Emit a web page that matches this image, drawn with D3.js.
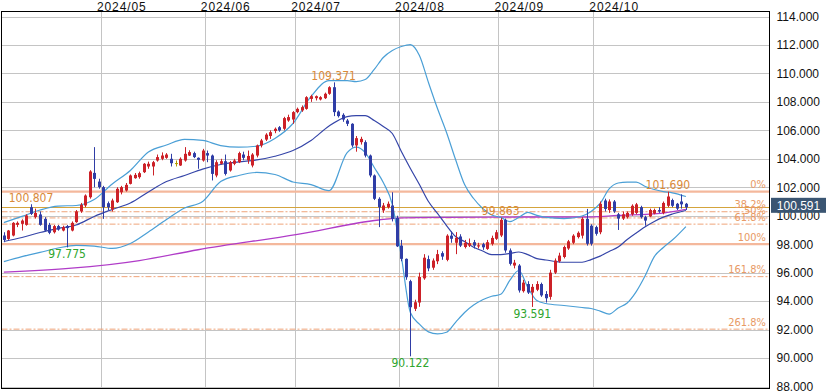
<!DOCTYPE html>
<html><head><meta charset="utf-8">
<script src="https://cdn.jsdelivr.net/npm/d3@7"></script>
<style>html,body{margin:0;padding:0;background:#fff;}svg{display:block;}</style>
</head><body>
<svg id="chart" width="830" height="391"></svg>
<script>
const dates = ["2024-04-01","2024-04-02","2024-04-03","2024-04-04","2024-04-05","2024-04-08","2024-04-09","2024-04-10","2024-04-11","2024-04-12","2024-04-15","2024-04-16","2024-04-17","2024-04-18","2024-04-19","2024-04-22","2024-04-23","2024-04-24","2024-04-25","2024-04-26","2024-04-29","2024-04-30",
"2024-05-01","2024-05-02","2024-05-03","2024-05-06","2024-05-07","2024-05-08","2024-05-09","2024-05-10","2024-05-13","2024-05-14","2024-05-15","2024-05-16","2024-05-17","2024-05-20","2024-05-21","2024-05-22","2024-05-23","2024-05-24","2024-05-27","2024-05-28","2024-05-29","2024-05-30","2024-05-31",
"2024-06-03","2024-06-04","2024-06-05","2024-06-06","2024-06-07","2024-06-10","2024-06-11","2024-06-12","2024-06-13","2024-06-14","2024-06-17","2024-06-18","2024-06-19","2024-06-20","2024-06-21","2024-06-24","2024-06-25","2024-06-26","2024-06-27","2024-06-28",
"2024-07-01","2024-07-02","2024-07-03","2024-07-04","2024-07-05","2024-07-08","2024-07-09","2024-07-10","2024-07-11","2024-07-12","2024-07-15","2024-07-16","2024-07-17","2024-07-18","2024-07-19","2024-07-22","2024-07-23","2024-07-24","2024-07-25","2024-07-26","2024-07-29","2024-07-30","2024-07-31",
"2024-08-01","2024-08-02","2024-08-05","2024-08-06","2024-08-07","2024-08-08","2024-08-09","2024-08-12","2024-08-13","2024-08-14","2024-08-15","2024-08-16","2024-08-19","2024-08-20","2024-08-21","2024-08-22","2024-08-23","2024-08-26","2024-08-27","2024-08-28","2024-08-29","2024-08-30",
"2024-09-02","2024-09-03","2024-09-04","2024-09-05","2024-09-06","2024-09-09","2024-09-10","2024-09-11","2024-09-12","2024-09-13","2024-09-16","2024-09-17","2024-09-18","2024-09-19","2024-09-20","2024-09-23","2024-09-24","2024-09-25","2024-09-26","2024-09-27","2024-09-30",
"2024-10-01","2024-10-02","2024-10-03","2024-10-04","2024-10-07","2024-10-08","2024-10-09","2024-10-10","2024-10-11","2024-10-14","2024-10-15","2024-10-16","2024-10-17","2024-10-18","2024-10-21","2024-10-22","2024-10-23","2024-10-24","2024-10-25","2024-10-28","2024-10-29"];

const open = [98.61,98.37,98.61,99.36,99.43,99.36,100.60,99.90,100.09,99.78,99.36,98.84,99.27,98.96,99.27,98.96,99.55,100.30,100.72,101.30,103.01,102.40,
102.01,100.88,100.44,100.95,101.65,101.77,102.24,102.64,102.71,103.06,103.46,103.46,103.88,104.00,104.07,104.00,103.70,103.53,103.88,104.23,104.40,104.07,103.88,
104.40,104.23,102.83,103.65,103.83,103.18,103.65,103.76,104.30,103.90,103.53,104.23,104.94,105.35,105.60,105.95,106.22,106.11,106.69,106.76,
107.28,107.40,107.51,108.21,108.26,108.17,108.26,108.57,109.03,107.32,107.09,106.69,106.46,104.94,105.17,105.17,104.23,102.83,101.19,100.37,100.60,100.72,99.85,
97.90,96.97,95.40,93.46,93.90,95.60,96.95,96.35,96.80,97.37,96.90,98.60,98.10,98.54,97.80,97.90,98.14,97.84,98.00,97.67,98.02,98.38,
98.61,99.71,97.56,96.50,96.50,94.70,95.20,94.60,94.80,95.20,94.50,94.30,96.00,96.80,97.10,97.70,98.10,98.50,98.60,99.78,99.30,
99.20,98.84,101.07,100.40,101.00,100.10,99.80,99.90,100.10,100.20,100.60,99.90,99.95,100.15,100.40,100.20,100.70,101.10,100.84,101.00,100.84];
const high = [98.84,99.00,99.55,99.60,99.75,100.10,100.807,100.50,100.30,99.90,99.50,99.35,99.35,99.30,99.35,99.60,100.40,100.90,101.50,103.20,104.82,102.60,
102.10,101.00,101.20,102.00,102.10,102.30,102.90,103.00,103.10,103.70,103.80,103.85,104.30,104.45,104.40,104.35,103.88,104.10,104.82,104.60,104.50,104.10,104.70,
104.58,104.30,103.90,104.00,104.30,103.85,104.00,104.50,104.50,104.58,104.40,105.00,105.40,105.80,106.00,106.20,106.30,106.95,107.10,107.35,
107.60,107.75,108.40,108.50,108.45,108.40,108.65,109.10,109.371,107.40,107.20,106.80,106.50,105.60,105.55,105.30,104.30,102.90,101.30,100.90,101.00,101.65,100.00,
98.30,97.00,95.50,94.10,96.00,97.30,97.20,97.00,97.60,97.50,98.70,98.90,98.85,98.70,98.30,98.40,98.30,98.10,98.10,98.30,98.60,99.00,
99.863,99.80,97.70,96.90,96.60,95.50,95.40,95.20,95.40,95.30,94.70,96.20,97.00,97.40,97.90,98.30,98.70,98.90,99.90,100.48,99.40,
99.30,101.00,101.20,101.15,101.10,100.20,100.30,100.30,100.80,100.90,100.70,100.00,100.50,100.50,100.60,101.00,101.690,101.20,100.90,101.50,100.90];
const low = [98.14,98.30,98.55,99.20,98.96,99.30,100.05,99.80,99.30,98.90,98.70,98.75,98.95,98.90,97.775,98.90,99.50,100.20,100.60,101.20,102.00,101.90,
99.78,100.40,100.30,100.90,101.50,101.70,102.20,102.60,102.60,103.00,103.30,102.83,103.80,103.90,104.00,103.46,103.46,103.50,103.80,104.20,104.05,103.30,103.80,
103.76,102.48,102.70,103.60,102.83,103.10,103.55,103.70,103.90,103.65,103.40,104.10,104.80,105.25,105.40,105.80,105.90,106.00,106.60,106.46,
107.20,107.30,107.45,108.00,108.10,108.10,108.20,108.50,107.00,106.90,106.60,106.30,104.80,104.50,105.00,104.10,102.70,101.10,99.20,100.20,100.50,99.60,97.80,
96.80,95.50,90.122,93.30,93.60,95.50,96.10,96.20,96.60,96.90,96.80,98.10,97.30,97.80,97.70,97.80,97.70,97.70,97.60,97.60,97.90,98.30,
98.50,97.40,96.50,96.30,94.60,94.60,94.50,93.591,94.70,94.30,93.90,94.10,95.90,96.70,97.00,97.60,98.00,98.40,98.40,97.90,97.90,
98.60,98.70,100.30,100.20,100.20,99.00,99.70,99.80,100.00,100.10,99.80,99.30,99.90,100.10,100.20,100.10,100.60,100.60,100.40,100.50,100.40];
const close = [98.30,98.96,99.50,99.50,99.66,100.02,100.13,100.20,99.36,98.96,98.80,99.27,99.03,99.20,99.13,99.50,100.30,100.77,101.42,103.11,102.59,102.01,
100.60,100.60,101.07,101.89,102.01,102.17,102.83,102.87,102.99,103.65,103.65,103.76,104.12,104.23,104.30,103.69,103.70,104.00,104.35,104.47,104.12,103.93,104.58,
104.23,102.94,103.76,103.83,102.94,103.76,103.88,104.40,104.07,104.20,104.30,104.94,105.29,105.70,105.87,106.11,105.99,106.86,106.93,107.28,
107.51,107.63,108.33,108.40,108.40,108.33,108.57,109.03,107.28,107.00,106.76,106.46,104.94,105.45,105.40,104.23,102.83,101.19,100.60,100.72,100.84,99.78,97.85,
96.97,95.68,93.57,93.92,95.70,97.05,96.30,96.85,97.30,97.13,98.60,98.38,98.45,97.90,98.10,98.07,97.90,97.92,97.78,98.14,98.44,98.84,
99.71,97.56,96.62,96.70,94.75,95.30,94.60,95.00,95.20,94.40,94.20,96.00,96.85,97.20,97.80,98.20,98.60,98.80,99.78,98.03,98.03,
98.73,100.84,100.48,101.00,100.30,99.80,100.10,100.20,100.70,100.80,99.90,99.66,100.40,100.40,100.30,100.90,101.35,100.70,100.50,100.80,100.591];

const monthTicks = ["2024/05","2024/06","2024/07","2024/08","2024/09","2024/10"];
const yTicks = [88,90,92,94,96,98,100,102,104,106,108,110,112,114];

// Bollinger bands, at these bar indices
const bbIndex = [0,4,8,12,16,20,24,28,32,36,40,44,48,52,56,60,64,68,72,76,78,80,82,84,86,88,90,92,94,96,98,100,102,104,106,108,110,112,114,116,118,120,124,128,130,132,134,136,138,140,142,144,146,148,151];
const bbUpper = [99.52,99.95,100.40,100.68,100.72,101.14,102.23,103.18,104.48,104.97,105.36,105.29,104.93,104.82,104.89,105.43,106.48,108.38,109.50,109.50,109.43,109.57,110.28,111.12,111.61,111.89,112.03,111.26,109.36,107.53,105.85,103.95,102.19,101.21,100.51,100.05,99.88,99.59,99.88,100.23,100.02,99.88,99.80,99.98,100.30,100.86,101.88,102.30,102.36,102.36,102.05,101.84,101.70,101.61,101.35];
const bbMiddle = [98.19,98.47,98.82,99.10,99.35,99.95,100.44,100.89,101.67,102.40,102.83,103.28,103.60,103.78,103.92,104.18,104.58,105.29,106.31,106.97,107.04,107.04,106.69,106.27,105.78,104.51,103.32,102.19,101.00,100.16,99.31,98.54,98.19,97.79,97.52,97.27,97.27,97.35,97.45,97.27,96.99,96.89,96.73,96.73,96.92,97.16,97.49,97.80,98.33,98.79,99.22,99.59,99.90,100.12,100.37];
const bbLower = [96.78,97.13,97.42,97.73,97.91,97.87,97.70,98.05,98.86,99.73,100.54,101.00,102.40,102.83,103.04,102.90,102.37,102.19,101.76,104.44,104.82,104.44,103.39,102.33,100.79,97.13,93.20,92.38,91.84,91.70,91.81,92.51,93.20,93.72,94.10,94.34,94.48,95.45,96.15,94.96,94.04,93.83,93.69,93.55,93.48,93.30,93.09,93.52,93.87,94.67,95.80,97.13,97.77,98.29,99.24];
// long moving average
const maIndex = [0,30,43,65,83,88,98,114,128,136,146,151];
const maValues = [96.03,96.85,97.61,98.69,99.70,99.85,99.89,99.91,99.91,100.02,100.19,100.44];

const fibHigh = 101.690, fibLow = 98.000;
const fibRatios = [0, 0.382, 0.5, 0.618, 1, 1.618, 2.618];
const fibLabels = ["0%","38.2%","50%","61.8%","100%","161.8%","261.8%"];
const lastPrice = 100.591;
const highMarkIdx = [6, 73, 110, 147];
const lowMarkIdx = [14, 90, 117];

const svg = d3.select("#chart");
const L = 1.5, R = 769.5, T = 11.5, B = 388.5;
const x = d3.scaleLinear().domain([0, dates.length - 1]).range([3.86, 3.86 + 4.517 * (dates.length - 1)]);
const step = x(1) - x(0);
const y = d3.scaleLinear().domain([88, 114]).range([386.5, 16.5]);
const narrow = "'Liberation Sans Narrow','Arial Narrow','DejaVu Sans Condensed',sans-serif";
const regular = "'Liberation Sans',Arial,sans-serif";

svg.append("defs").append("clipPath").attr("id","clip").append("rect")
  .attr("x", L).attr("y", T).attr("width", R - L).attr("height", B - T);

// horizontal grid
svg.append("g").selectAll("line").data(yTicks).join("line")
  .attr("x1", L).attr("x2", R)
  .attr("y1", d => Math.round(y(d)) + 0.5).attr("y2", d => Math.round(y(d)) + 0.5)
  .attr("stroke", "#c4c4c4").attr("stroke-width", 1);

// vertical month grid + labels
const monthIdx = monthTicks.map(m => dates.findIndex(d => d.slice(0,7).replace("-","/") === m));
const gx = svg.append("g");
gx.selectAll("line").data(monthIdx).join("line")
  .attr("x1", i => Math.round(x(i) - step/2) + 0.5).attr("x2", i => Math.round(x(i) - step/2) + 0.5)
  .attr("y1", T).attr("y2", B).attr("stroke", "#c4c4c4");
gx.selectAll("text").data(monthIdx).join("text")
  .attr("x", i => x(i) - step/2 - 4).attr("y", 10.5)
  .attr("font-family", regular).attr("font-size", 12)
  .attr("letter-spacing", 0.9).attr("fill", "#111")
  .text((i, k) => monthTicks[k]);

const plot = svg.append("g").attr("clip-path", "url(#clip)");

// Fibonacci lines
const fibVals = fibRatios.map(r => fibHigh - r * (fibHigh - fibLow));
plot.selectAll(".fib").data(fibRatios).join("line")
  .attr("x1", L).attr("x2", R)
  .attr("y1", (r, k) => y(fibVals[k])).attr("y2", (r, k) => y(fibVals[k]))
  .attr("stroke", r => (r === 0 || r === 1) ? "#f4b89c" : "#efa47a")
  .attr("stroke-width", r => (r === 0 || r === 1) ? 2.2 : 1)
  .attr("stroke-dasharray", r => (r === 0 || r === 1) ? null : "6,2,2,2");

// current price line
plot.append("line").attr("x1", L).attr("x2", R)
  .attr("y1", Math.round(y(lastPrice)) + 0.5).attr("y2", Math.round(y(lastPrice)) + 0.5)
  .attr("stroke", "#d4a43c").attr("stroke-width", 1);

// moving average
plot.append("path").datum(maValues)
  .attr("d", d3.line().x((d, k) => x(maIndex[k])).y(d => y(d)).curve(d3.curveMonotoneX))
  .attr("fill", "none").attr("stroke", "#b03cc8").attr("stroke-width", 1.3);

// Bollinger bands
const bandLine = d3.line().x((d, k) => x(bbIndex[k])).y(d => y(d)).curve(d3.curveMonotoneX);
[[bbUpper, "#4a9fd6"], [bbLower, "#4a9fd6"], [bbMiddle, "#3545a8"]].forEach(([arr, c]) => {
  plot.append("path").datum(arr).attr("d", bandLine)
    .attr("fill", "none").attr("stroke", c).attr("stroke-width", 1.2);
});

// candles
const idx = d3.range(dates.length);
const col = i => close[i] > open[i] ? "#cc2128" : (close[i] < open[i] ? "#2f3da6" : "#b09a00");
const cg = plot.append("g");
cg.selectAll("line").data(idx).join("line")
  .attr("x1", i => Math.round(x(i)) + 0.5).attr("x2", i => Math.round(x(i)) + 0.5)
  .attr("y1", i => y(high[i])).attr("y2", i => y(low[i]))
  .attr("stroke", col).attr("stroke-width", 1);
cg.selectAll("rect").data(idx).join("rect")
  .attr("x", i => Math.round(x(i)) - 1).attr("width", 3)
  .attr("y", i => y(Math.max(open[i], close[i])))
  .attr("height", i => Math.max(1, y(Math.min(open[i], close[i])) - y(Math.max(open[i], close[i]))))
  .attr("fill", col);

// high / low annotations
svg.append("g").selectAll("text").data(highMarkIdx).join("text")
  .attr("x", i => x(i)).attr("y", i => y(high[i]) - 2.5).attr("text-anchor", "middle")
  .attr("font-family", narrow).attr("font-size", 12).attr("fill", "#d98a3a")
  .text(i => d3.format(".3f")(high[i]));
svg.append("g").selectAll("text").data(lowMarkIdx).join("text")
  .attr("x", i => x(i)).attr("y", i => y(low[i]) + 11).attr("text-anchor", "middle")
  .attr("font-family", narrow).attr("font-size", 12).attr("fill", "#2ea52e")
  .text(i => d3.format(".3f")(low[i]));

// fib labels
svg.append("g").selectAll("text").data(fibLabels).join("text")
  .attr("x", 766).attr("y", (t, k) => y(fibVals[k]) - 3.5).attr("text-anchor", "end")
  .attr("font-family", narrow).attr("font-size", 11).attr("fill", "#e89a66")
  .text(t => t);

// plot border
svg.append("rect").attr("x", L).attr("y", T).attr("width", R - L).attr("height", B - T)
  .attr("fill", "none").attr("stroke", "#000").attr("stroke-width", 1);

// right axis
const ax = svg.append("g").attr("transform", `translate(${R},0)`)
  .call(d3.axisRight(y).tickValues(yTicks).tickFormat(d3.format(".3f")).tickSize(0).tickPadding(7));
ax.select(".domain").remove();
ax.selectAll("text").attr("font-family", regular).attr("font-size", 12).attr("fill", "#111");

// current price tag
const py = y(lastPrice);
svg.append("rect").attr("x", 771).attr("y", py - 9.5).attr("width", 55).attr("height", 15).attr("fill", "#3a5572");
svg.append("text").attr("x", 798.5).attr("y", py + 2.5).attr("text-anchor", "middle")
  .attr("font-family", regular).attr("font-size", 12).attr("fill", "#fff")
  .text(d3.format(".3f")(lastPrice));
</script>
</body></html>
